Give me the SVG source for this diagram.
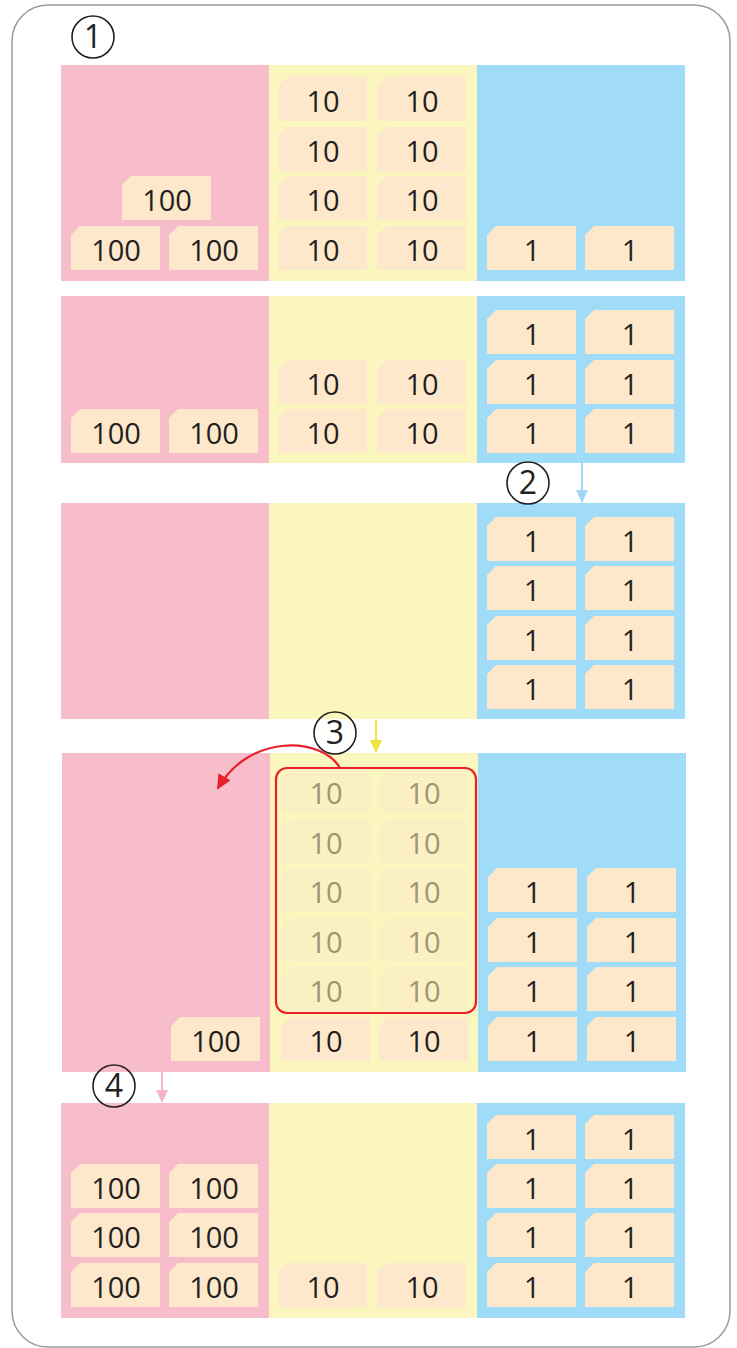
<svg xmlns="http://www.w3.org/2000/svg" xmlns:xlink="http://www.w3.org/1999/xlink" width="737" height="1348" viewBox="0 0 737 1348">
<style>
.pk{fill:#f7bdcb}.yl{fill:#fbf6bd}.bl{fill:#a0dcf7}
.cf{fill:#fde8cb}.ff{fill:#fbefc4}
text{font-family:"Open Sans","Liberation Sans",sans-serif;font-size:29px;text-anchor:middle;fill:#231f20}
.fd text{fill:#9b9575}
.num circle{fill:none;stroke:#231f20;stroke-width:1.6}
.num text{font-size:32px}
</style>
<defs>
<path id="c" d="M9,0H89V44H0V9Z"/>
<marker id="ab" markerWidth="14" markerHeight="12" refX="12" refY="6" orient="auto" markerUnits="userSpaceOnUse"><path d="M0,0L13,6L0,12Z" fill="#9ed8f3"/></marker>
<marker id="ay" markerWidth="14" markerHeight="12" refX="12" refY="6" orient="auto" markerUnits="userSpaceOnUse"><path d="M0,0L13,6L0,12Z" fill="#efe43c"/></marker>
<marker id="ap" markerWidth="14" markerHeight="12" refX="12" refY="6" orient="auto" markerUnits="userSpaceOnUse"><path d="M0,0L13,6L0,12Z" fill="#f5b5c6"/></marker>
<marker id="ar" markerWidth="16" markerHeight="14" refX="13" refY="7" orient="auto" markerUnits="userSpaceOnUse"><path d="M0,0L15,7L0,14Z" fill="#e8202a"/></marker>
</defs>
<rect x="12" y="5" width="718" height="1342" rx="36" fill="#fff" stroke="#9a9a9a" stroke-width="1.5"/>

<g id="panel1">
<rect class="pk" x="61" y="65" width="208" height="216"/><rect class="yl" x="269" y="65" width="208" height="216"/><rect class="bl" x="477" y="65" width="208" height="216"/>
<g id="p1c1" transform="translate(122,176)"><use href="#c" class="cf"/><text x="45" y="35">100</text></g>
<g id="p1c2" transform="translate(71,226)"><use href="#c" class="cf"/><text x="45" y="35">100</text></g>
<g id="p1c3" transform="translate(169,226)"><use href="#c" class="cf"/><text x="45" y="35">100</text></g>
<g id="p1c4" transform="translate(278,77)"><use href="#c" class="cf"/><text x="45" y="35">10</text></g>
<g id="p1c5" transform="translate(377,77)"><use href="#c" class="cf"/><text x="45" y="35">10</text></g>
<g id="p1c6" transform="translate(278,127)"><use href="#c" class="cf"/><text x="45" y="35">10</text></g>
<g id="p1c7" transform="translate(377,127)"><use href="#c" class="cf"/><text x="45" y="35">10</text></g>
<g id="p1c8" transform="translate(278,176)"><use href="#c" class="cf"/><text x="45" y="35">10</text></g>
<g id="p1c9" transform="translate(377,176)"><use href="#c" class="cf"/><text x="45" y="35">10</text></g>
<g id="p1c10" transform="translate(278,226)"><use href="#c" class="cf"/><text x="45" y="35">10</text></g>
<g id="p1c11" transform="translate(377,226)"><use href="#c" class="cf"/><text x="45" y="35">10</text></g>
<g id="p1c12" transform="translate(487,226)"><use href="#c" class="cf"/><text x="45" y="35">1</text></g>
<g id="p1c13" transform="translate(585,226)"><use href="#c" class="cf"/><text x="45" y="35">1</text></g>
</g>

<g id="panel2">
<rect class="pk" x="61" y="296" width="208" height="167"/><rect class="yl" x="269" y="296" width="208" height="167"/><rect class="bl" x="477" y="296" width="208" height="167"/>
<g id="p2c1" transform="translate(71,409)"><use href="#c" class="cf"/><text x="45" y="35">100</text></g>
<g id="p2c2" transform="translate(169,409)"><use href="#c" class="cf"/><text x="45" y="35">100</text></g>
<g id="p2c3" transform="translate(278,360)"><use href="#c" class="cf"/><text x="45" y="35">10</text></g>
<g id="p2c4" transform="translate(377,360)"><use href="#c" class="cf"/><text x="45" y="35">10</text></g>
<g id="p2c5" transform="translate(278,409)"><use href="#c" class="cf"/><text x="45" y="35">10</text></g>
<g id="p2c6" transform="translate(377,409)"><use href="#c" class="cf"/><text x="45" y="35">10</text></g>
<g id="p2c7" transform="translate(487,310)"><use href="#c" class="cf"/><text x="45" y="35">1</text></g>
<g id="p2c8" transform="translate(585,310)"><use href="#c" class="cf"/><text x="45" y="35">1</text></g>
<g id="p2c9" transform="translate(487,360)"><use href="#c" class="cf"/><text x="45" y="35">1</text></g>
<g id="p2c10" transform="translate(585,360)"><use href="#c" class="cf"/><text x="45" y="35">1</text></g>
<g id="p2c11" transform="translate(487,409)"><use href="#c" class="cf"/><text x="45" y="35">1</text></g>
<g id="p2c12" transform="translate(585,409)"><use href="#c" class="cf"/><text x="45" y="35">1</text></g>
</g>

<g id="panel3">
<rect class="pk" x="61" y="503" width="208" height="216"/><rect class="yl" x="269" y="503" width="208" height="216"/><rect class="bl" x="477" y="503" width="208" height="216"/>
<g id="p3c1" transform="translate(487,517)"><use href="#c" class="cf"/><text x="45" y="35">1</text></g>
<g id="p3c2" transform="translate(585,517)"><use href="#c" class="cf"/><text x="45" y="35">1</text></g>
<g id="p3c3" transform="translate(487,566)"><use href="#c" class="cf"/><text x="45" y="35">1</text></g>
<g id="p3c4" transform="translate(585,566)"><use href="#c" class="cf"/><text x="45" y="35">1</text></g>
<g id="p3c5" transform="translate(487,616)"><use href="#c" class="cf"/><text x="45" y="35">1</text></g>
<g id="p3c6" transform="translate(585,616)"><use href="#c" class="cf"/><text x="45" y="35">1</text></g>
<g id="p3c7" transform="translate(487,665)"><use href="#c" class="cf"/><text x="45" y="35">1</text></g>
<g id="p3c8" transform="translate(585,665)"><use href="#c" class="cf"/><text x="45" y="35">1</text></g>
</g>

<g id="panel4">
<rect class="pk" x="62" y="753" width="208" height="319"/><rect class="yl" x="270" y="753" width="208" height="319"/><rect class="bl" x="478" y="753" width="208" height="319"/>
<g id="p4c1" transform="translate(171,1017)"><use href="#c" class="cf"/><text x="45" y="35">100</text></g>
<g class="fd">
<g id="p4f1" transform="translate(281,769)"><use href="#c" class="ff"/><text x="45" y="35">10</text></g>
<g id="p4f2" transform="translate(379,769)"><use href="#c" class="ff"/><text x="45" y="35">10</text></g>
<g id="p4f3" transform="translate(281,819)"><use href="#c" class="ff"/><text x="45" y="35">10</text></g>
<g id="p4f4" transform="translate(379,819)"><use href="#c" class="ff"/><text x="45" y="35">10</text></g>
<g id="p4f5" transform="translate(281,868)"><use href="#c" class="ff"/><text x="45" y="35">10</text></g>
<g id="p4f6" transform="translate(379,868)"><use href="#c" class="ff"/><text x="45" y="35">10</text></g>
<g id="p4f7" transform="translate(281,918)"><use href="#c" class="ff"/><text x="45" y="35">10</text></g>
<g id="p4f8" transform="translate(379,918)"><use href="#c" class="ff"/><text x="45" y="35">10</text></g>
<g id="p4f9" transform="translate(281,967)"><use href="#c" class="ff"/><text x="45" y="35">10</text></g>
<g id="p4f10" transform="translate(379,967)"><use href="#c" class="ff"/><text x="45" y="35">10</text></g>
</g>
<g id="p4c2" transform="translate(281,1017)"><use href="#c" class="cf"/><text x="45" y="35">10</text></g>
<g id="p4c3" transform="translate(379,1017)"><use href="#c" class="cf"/><text x="45" y="35">10</text></g>
<g id="p4c4" transform="translate(488,868)"><use href="#c" class="cf"/><text x="45" y="35">1</text></g>
<g id="p4c5" transform="translate(587,868)"><use href="#c" class="cf"/><text x="45" y="35">1</text></g>
<g id="p4c6" transform="translate(488,918)"><use href="#c" class="cf"/><text x="45" y="35">1</text></g>
<g id="p4c7" transform="translate(587,918)"><use href="#c" class="cf"/><text x="45" y="35">1</text></g>
<g id="p4c8" transform="translate(488,967)"><use href="#c" class="cf"/><text x="45" y="35">1</text></g>
<g id="p4c9" transform="translate(587,967)"><use href="#c" class="cf"/><text x="45" y="35">1</text></g>
<g id="p4c10" transform="translate(488,1017)"><use href="#c" class="cf"/><text x="45" y="35">1</text></g>
<g id="p4c11" transform="translate(587,1017)"><use href="#c" class="cf"/><text x="45" y="35">1</text></g>
<rect id="group10" x="276" y="768" width="200" height="245" rx="11" fill="none" stroke="#e8202a" stroke-width="2.2"/>
</g>

<g id="panel5">
<rect class="pk" x="61" y="1103" width="208" height="215"/><rect class="yl" x="269" y="1103" width="208" height="215"/><rect class="bl" x="477" y="1103" width="208" height="215"/>
<g id="p5c1" transform="translate(71,1164)"><use href="#c" class="cf"/><text x="45" y="35">100</text></g>
<g id="p5c2" transform="translate(169,1164)"><use href="#c" class="cf"/><text x="45" y="35">100</text></g>
<g id="p5c3" transform="translate(71,1213)"><use href="#c" class="cf"/><text x="45" y="35">100</text></g>
<g id="p5c4" transform="translate(169,1213)"><use href="#c" class="cf"/><text x="45" y="35">100</text></g>
<g id="p5c5" transform="translate(71,1263)"><use href="#c" class="cf"/><text x="45" y="35">100</text></g>
<g id="p5c6" transform="translate(169,1263)"><use href="#c" class="cf"/><text x="45" y="35">100</text></g>
<g id="p5c7" transform="translate(278,1263)"><use href="#c" class="cf"/><text x="45" y="35">10</text></g>
<g id="p5c8" transform="translate(377,1263)"><use href="#c" class="cf"/><text x="45" y="35">10</text></g>
<g id="p5c9" transform="translate(487,1115)"><use href="#c" class="cf"/><text x="45" y="35">1</text></g>
<g id="p5c10" transform="translate(585,1115)"><use href="#c" class="cf"/><text x="45" y="35">1</text></g>
<g id="p5c11" transform="translate(487,1164)"><use href="#c" class="cf"/><text x="45" y="35">1</text></g>
<g id="p5c12" transform="translate(585,1164)"><use href="#c" class="cf"/><text x="45" y="35">1</text></g>
<g id="p5c13" transform="translate(487,1213)"><use href="#c" class="cf"/><text x="45" y="35">1</text></g>
<g id="p5c14" transform="translate(585,1213)"><use href="#c" class="cf"/><text x="45" y="35">1</text></g>
<g id="p5c15" transform="translate(487,1263)"><use href="#c" class="cf"/><text x="45" y="35">1</text></g>
<g id="p5c16" transform="translate(585,1263)"><use href="#c" class="cf"/><text x="45" y="35">1</text></g>
</g>

<g id="labels">
<g id="n1" class="num"><circle cx="93" cy="37" r="21"/><text x="93" y="48">1</text></g>
<g id="n2" class="num"><circle cx="528" cy="483" r="21"/><text x="528" y="494">2</text></g>
<g id="n3" class="num"><circle cx="335" cy="733" r="21"/><text x="335" y="744">3</text></g>
<g id="n4" class="num"><circle cx="114" cy="1086" r="21"/><text x="114" y="1097">4</text></g>
</g>

<g id="connectors" fill="none">
<path d="M582,463V502" stroke="#9ed8f3" stroke-width="2" marker-end="url(#ab)"/>
<path d="M376,720V752" stroke="#efe43c" stroke-width="2" marker-end="url(#ay)"/>
<path d="M162,1072V1102" stroke="#f5b5c6" stroke-width="2" marker-end="url(#ap)"/>
<path d="M340,768C322,737 250,733 218,788" stroke="#e8202a" stroke-width="2.2" marker-end="url(#ar)"/>
</g>
</svg>
